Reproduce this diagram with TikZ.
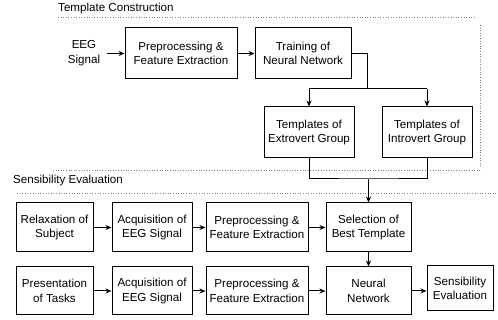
\documentclass[tikz,border=0pt]{standalone}
\usepackage{fontspec}
\setmainfont{Liberation Sans}
\usetikzlibrary{arrows.meta}
\begin{document}
\begin{tikzpicture}[x=1pt,y=-1pt,
  box/.style={draw,line width=1pt,align=center,inner sep=0pt,
    font=\fontsize{11.6}{14.5}\selectfont},
  lbl/.style={align=center,inner sep=0pt,font=\fontsize{11.6}{14.5}\selectfont},
  conn/.style={line width=1pt},
  arr/.style={line width=1pt,-{Stealth[length=6pt,width=5pt]}},
  frame/.style={dotted,line width=0.6pt,gray}]
\useasboundingbox (0,0) rectangle (498,320);
% section labels
\node[lbl,anchor=west] (tc) at (58,9) {Template Construction};
\node[lbl,anchor=west] (se) at (13,181) {Sensibility Evaluation};
% dotted frames
\draw[frame] (58,17) -- (476,17);
\draw[frame] (480,25) -- (480,168);
\draw[frame] (53,170) -- (480,170);
\draw[frame] (17,193) -- (497,193);
% template construction
\node[lbl] (eeg) at (84,53) {EEG\\Signal};
\node[box,minimum width=112,minimum height=51] (pre1) at (181,53.5) {Preprocessing \&\\Feature Extraction};
\node[box,minimum width=96,minimum height=51] (train) at (303,53.5) {Training of\\Neural Network};
\node[box,minimum width=90,minimum height=51] (ext) at (309,132.5) {Templates of\\Extrovert Group};
\node[box,minimum width=90,minimum height=51] (intr) at (427,132.5) {Templates of\\Introvert Group};
% sensibility evaluation row 1
\node[box,minimum width=77,minimum height=49] (relax) at (54.5,227.5) {Relaxation of\\Subject};
\node[box,minimum width=80,minimum height=49] (acq1) at (152,227.5) {Acquisition of\\EEG Signal};
\node[box,minimum width=102,minimum height=49] (pre2) at (257,227.5) {Preprocessing \&\\Feature Extraction};
\node[box,minimum width=85,minimum height=49] (sel) at (368.5,227.5) {Selection of\\Best Template};
% row 2
\node[box,minimum width=77,minimum height=48] (pres) at (54.5,291) {Presentation\\of Tasks};
\node[box,minimum width=80,minimum height=48] (acq2) at (152,291) {Acquisition of\\EEG Signal};
\node[box,minimum width=102,minimum height=48] (pre3) at (257,291) {Preprocessing \&\\Feature Extraction};
\node[box,minimum width=85,minimum height=48] (nn) at (368.5,291) {Neural\\Network};
\node[box,minimum width=66,minimum height=45] (sens) at (460,288.5) {Sensibility\\Evaluation};
% connectors
\coordinate (e0) at (107,53.5);
\coordinate (j1) at (367,89);
\coordinate (j2) at (368.5,179);
\draw[arr] (e0) -- (pre1.west);
\draw[arr] (pre1.east) -- (train.west);
\draw[conn] (train.east) -| (j1);
\draw[conn] (ext.north |- j1) -- (intr.north |- j1);
\draw[arr] (ext.north |- j1) -- (ext.north);
\draw[arr] (intr.north |- j1) -- (intr.north);
\draw[conn] (ext.south) |- (j2) -| (intr.south);
\draw[arr] (j2) -- (sel.north);
\draw[arr] (relax) -- (acq1);
\draw[arr] (acq1) -- (pre2);
\draw[arr] (pre2) -- (sel);
\draw[arr] (pres) -- (acq2);
\draw[arr] (acq2) -- (pre3);
\draw[arr] (pre3) -- (nn);
\draw[arr] (sel) -- (nn);
\draw[arr] (nn.east) -- (nn.east -| sens.west);
\end{tikzpicture}
\end{document}
